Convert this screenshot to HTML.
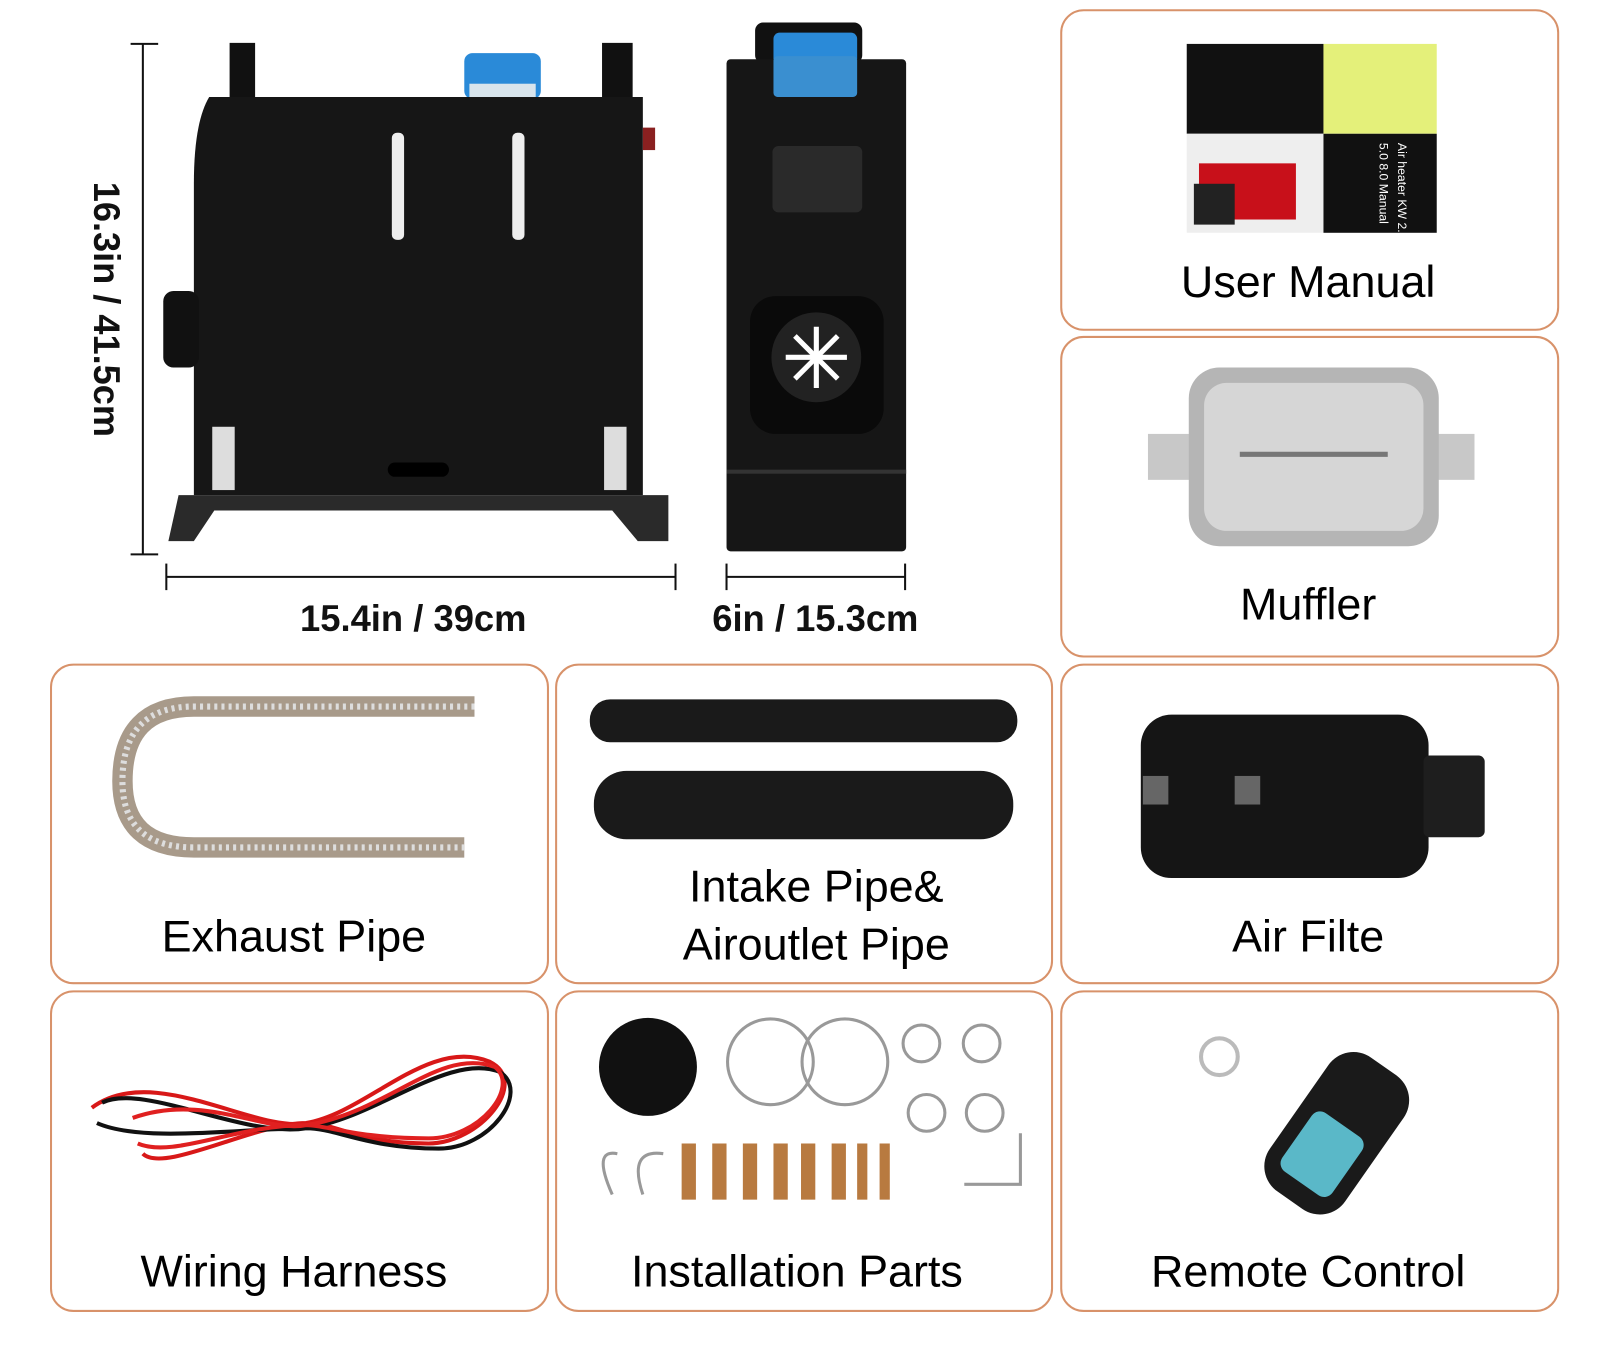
<!DOCTYPE html>
<html><head><meta charset="utf-8"><style>
html,body{margin:0;padding:0;background:#fff;}
svg{display:block;}
text{font-family:"Liberation Sans",sans-serif;}
</style></head><body>
<svg width="1600" height="1363" viewBox="0 0 1568 1335" preserveAspectRatio="none" xmlns="http://www.w3.org/2000/svg">
<rect width="1568" height="1335" fill="#fff"/>
<g fill="none" stroke="#d8926a" stroke-width="2">
<rect x="1040" y="10" width="487" height="313" rx="22"/>
<rect x="1040" y="330" width="487" height="313" rx="22"/>
<rect x="50" y="651" width="487" height="312" rx="22"/>
<rect x="545" y="651" width="486" height="312" rx="22"/>
<rect x="1040" y="651" width="487" height="312" rx="22"/>
<rect x="50" y="971" width="487" height="313" rx="22"/>
<rect x="545" y="971" width="486" height="313" rx="22"/>
<rect x="1040" y="971" width="487" height="313" rx="22"/>
</g>
<!-- heater side -->
<rect x="225" y="42" width="25" height="60" fill="#111"/>
<rect x="590" y="42" width="30" height="60" fill="#111"/>
<rect x="455" y="52" width="75" height="45" rx="8" fill="#2a8ad8"/>
<rect x="460" y="82" width="65" height="14" fill="#d8e4ec"/>
<path d="M205 95 L630 95 L630 485 L190 485 L190 180 Q190 120 205 95 Z" fill="#161616"/>
<rect x="160" y="285" width="35" height="75" rx="10" fill="#111"/>
<rect x="630" y="125" width="12" height="22" fill="#8a2020"/>
<rect x="384" y="130" width="12" height="105" rx="5" fill="#eee"/>
<rect x="502" y="130" width="12" height="105" rx="5" fill="#eee"/>
<rect x="208" y="418" width="22" height="62" fill="#ddd"/>
<rect x="592" y="418" width="22" height="62" fill="#ddd"/>
<rect x="380" y="453" width="60" height="14" rx="7" fill="#000"/>
<path d="M175 485 L655 485 L655 530 L625 530 L600 500 L210 500 L190 530 L165 530 Z" fill="#2a2a2a"/>
<!-- dims -->
<g stroke="#111" stroke-width="2">
<line x1="140" y1="43" x2="140" y2="543"/><line x1="128" y1="43" x2="155" y2="43"/><line x1="128" y1="543" x2="155" y2="543"/>
<line x1="163" y1="565" x2="662" y2="565"/><line x1="163" y1="552" x2="163" y2="578"/><line x1="662" y1="552" x2="662" y2="578"/>
<line x1="712" y1="565" x2="887" y2="565"/><line x1="712" y1="552" x2="712" y2="578"/><line x1="887" y1="552" x2="887" y2="578"/>
</g>
<g font-weight="bold" font-size="36" fill="#111" text-anchor="middle">
<text x="0" y="0" transform="translate(92,303) rotate(90)" textLength="250" lengthAdjust="spacingAndGlyphs">16.3in / 41.5cm</text>
<text x="405" y="618" textLength="222" lengthAdjust="spacingAndGlyphs">15.4in / 39cm</text>
<text x="799" y="618" textLength="202" lengthAdjust="spacingAndGlyphs">6in / 15.3cm</text>
</g>
<!-- heater front -->
<rect x="740" y="22" width="105" height="40" rx="8" fill="#111"/>
<rect x="758" y="32" width="82" height="58" rx="6" fill="#2a8ad8"/>
<rect x="712" y="58" width="176" height="482" rx="4" fill="#161616"/>
<rect x="758" y="55" width="82" height="40" rx="4" fill="#3a8fd0"/>
<rect x="757" y="143" width="88" height="65" rx="6" fill="#2a2a2a"/>
<rect x="735" y="290" width="131" height="135" rx="25" fill="#0a0a0a"/>
<circle cx="800" cy="350" r="44" fill="#222"/>
<g stroke="#fff" stroke-width="5"><line x1="770" y1="350" x2="830" y2="350"/><line x1="800" y1="320" x2="800" y2="380"/><line x1="779" y1="329" x2="821" y2="371"/><line x1="821" y1="329" x2="779" y2="371"/></g>
<rect x="712" y="460" width="176" height="4" fill="#333"/>
<!-- user manual -->
<rect x="1163" y="43" width="134" height="88" fill="#111"/>
<rect x="1297" y="43" width="111" height="88" fill="#e4f07a"/>
<rect x="1163" y="131" width="134" height="97" fill="#eee"/>
<rect x="1297" y="131" width="111" height="97" fill="#111"/>
<rect x="1175" y="160" width="95" height="55" fill="#c8101a"/>
<rect x="1170" y="180" width="40" height="40" fill="#222"/>
<text x="0" y="0" transform="translate(1370,140) rotate(90)" font-size="12" fill="#fff">Air heater KW 2.0</text>
<text x="0" y="0" transform="translate(1352,140) rotate(90)" font-size="12" fill="#fff">5.0 8.0 Manual</text>
<!-- muffler -->
<rect x="1125" y="425" width="320" height="45" fill="#c8c8c8"/>
<rect x="1165" y="360" width="245" height="175" rx="30" fill="#b5b5b5"/>
<rect x="1180" y="375" width="215" height="145" rx="22" fill="#d6d6d6"/>
<line x1="1215" y1="445" x2="1360" y2="445" stroke="#777" stroke-width="5"/>
<!-- exhaust -->
<path d="M465 692 L190 692 Q120 692 120 765 Q120 830 190 830 L455 830" fill="none" stroke="#a89a8a" stroke-width="20"/>
<path d="M465 692 L190 692 Q120 692 120 765 Q120 830 190 830 L455 830" fill="none" stroke="#ddd" stroke-width="6" stroke-dasharray="3 4"/>
<!-- intake -->
<rect x="578" y="685" width="419" height="42" rx="20" fill="#1a1a1a"/>
<rect x="582" y="755" width="411" height="67" rx="32" fill="#1a1a1a"/>
<!-- air filter -->
<rect x="1118" y="700" width="282" height="160" rx="30" fill="#151515"/>
<rect x="1395" y="740" width="60" height="80" rx="6" fill="#1e1e1e"/>
<rect x="1120" y="760" width="25" height="28" fill="#666"/>
<rect x="1210" y="760" width="25" height="28" fill="#666"/>
<!-- wiring -->
<g fill="none" stroke-width="4">
<path d="M90 1085 C150 1040 250 1110 300 1100 C360 1090 420 1015 480 1040 C520 1060 470 1120 420 1120 C350 1120 330 1100 300 1100 C250 1100 160 1150 140 1130" stroke="#d81818"/>
<path d="M100 1080 C140 1060 240 1115 300 1105 C370 1095 440 1030 490 1050 C520 1070 480 1125 430 1125 C360 1125 330 1105 300 1105 C240 1105 140 1120 95 1100" stroke="#111"/>
<path d="M130 1095 C200 1070 260 1110 300 1102 C380 1090 430 1025 485 1045 C510 1065 470 1115 420 1115 C350 1115 320 1102 300 1102 C230 1102 170 1135 135 1120" stroke="#e02020"/>
</g>
<!-- installation parts -->
<circle cx="635" cy="1045" r="48" fill="#111"/>
<circle cx="755" cy="1040" r="42" fill="none" stroke="#999" stroke-width="3"/>
<circle cx="828" cy="1040" r="42" fill="none" stroke="#999" stroke-width="3"/>
<g fill="none" stroke="#999" stroke-width="3">
<circle cx="903" cy="1022" r="18"/><circle cx="962" cy="1022" r="18"/><circle cx="908" cy="1090" r="18"/><circle cx="965" cy="1090" r="18"/>
<path d="M600 1170 Q580 1125 605 1130"/><path d="M630 1170 Q615 1125 650 1130"/>
<path d="M945 1160 L1000 1160 L1000 1110"/></g>
<g fill="#b87a40"><rect x="668" y="1120" width="14" height="55"/><rect x="698" y="1120" width="14" height="55"/><rect x="728" y="1120" width="14" height="55"/><rect x="758" y="1120" width="14" height="55"/><rect x="785" y="1120" width="14" height="55"/><rect x="815" y="1120" width="14" height="55"/><rect x="840" y="1120" width="10" height="55"/><rect x="862" y="1120" width="10" height="55"/></g>
<!-- remote -->
<circle cx="1195" cy="1035" r="18" fill="none" stroke="#bbb" stroke-width="4"/>
<g transform="rotate(35 1310 1110)"><rect x="1265" y="1030" width="90" height="160" rx="30" fill="#1a1a1a"/>
<rect x="1280" y="1100" width="60" height="70" rx="10" fill="#5ab8c8"/></g>
<!-- labels -->
<g font-size="44" fill="#000" text-anchor="middle">
<text x="1282" y="291">User Manual</text>
<text x="1282" y="607">Muffler</text>
<text x="288" y="932">Exhaust Pipe</text>
<text x="800" y="883">Intake Pipe&amp;</text>
<text x="800" y="940">Airoutlet Pipe</text>
<text x="1282" y="932">Air Filte</text>
<text x="288" y="1260">Wiring Harness</text>
<text x="781" y="1260">Installation Parts</text>
<text x="1282" y="1260">Remote Control</text>
</g>
</svg>
</body></html>
